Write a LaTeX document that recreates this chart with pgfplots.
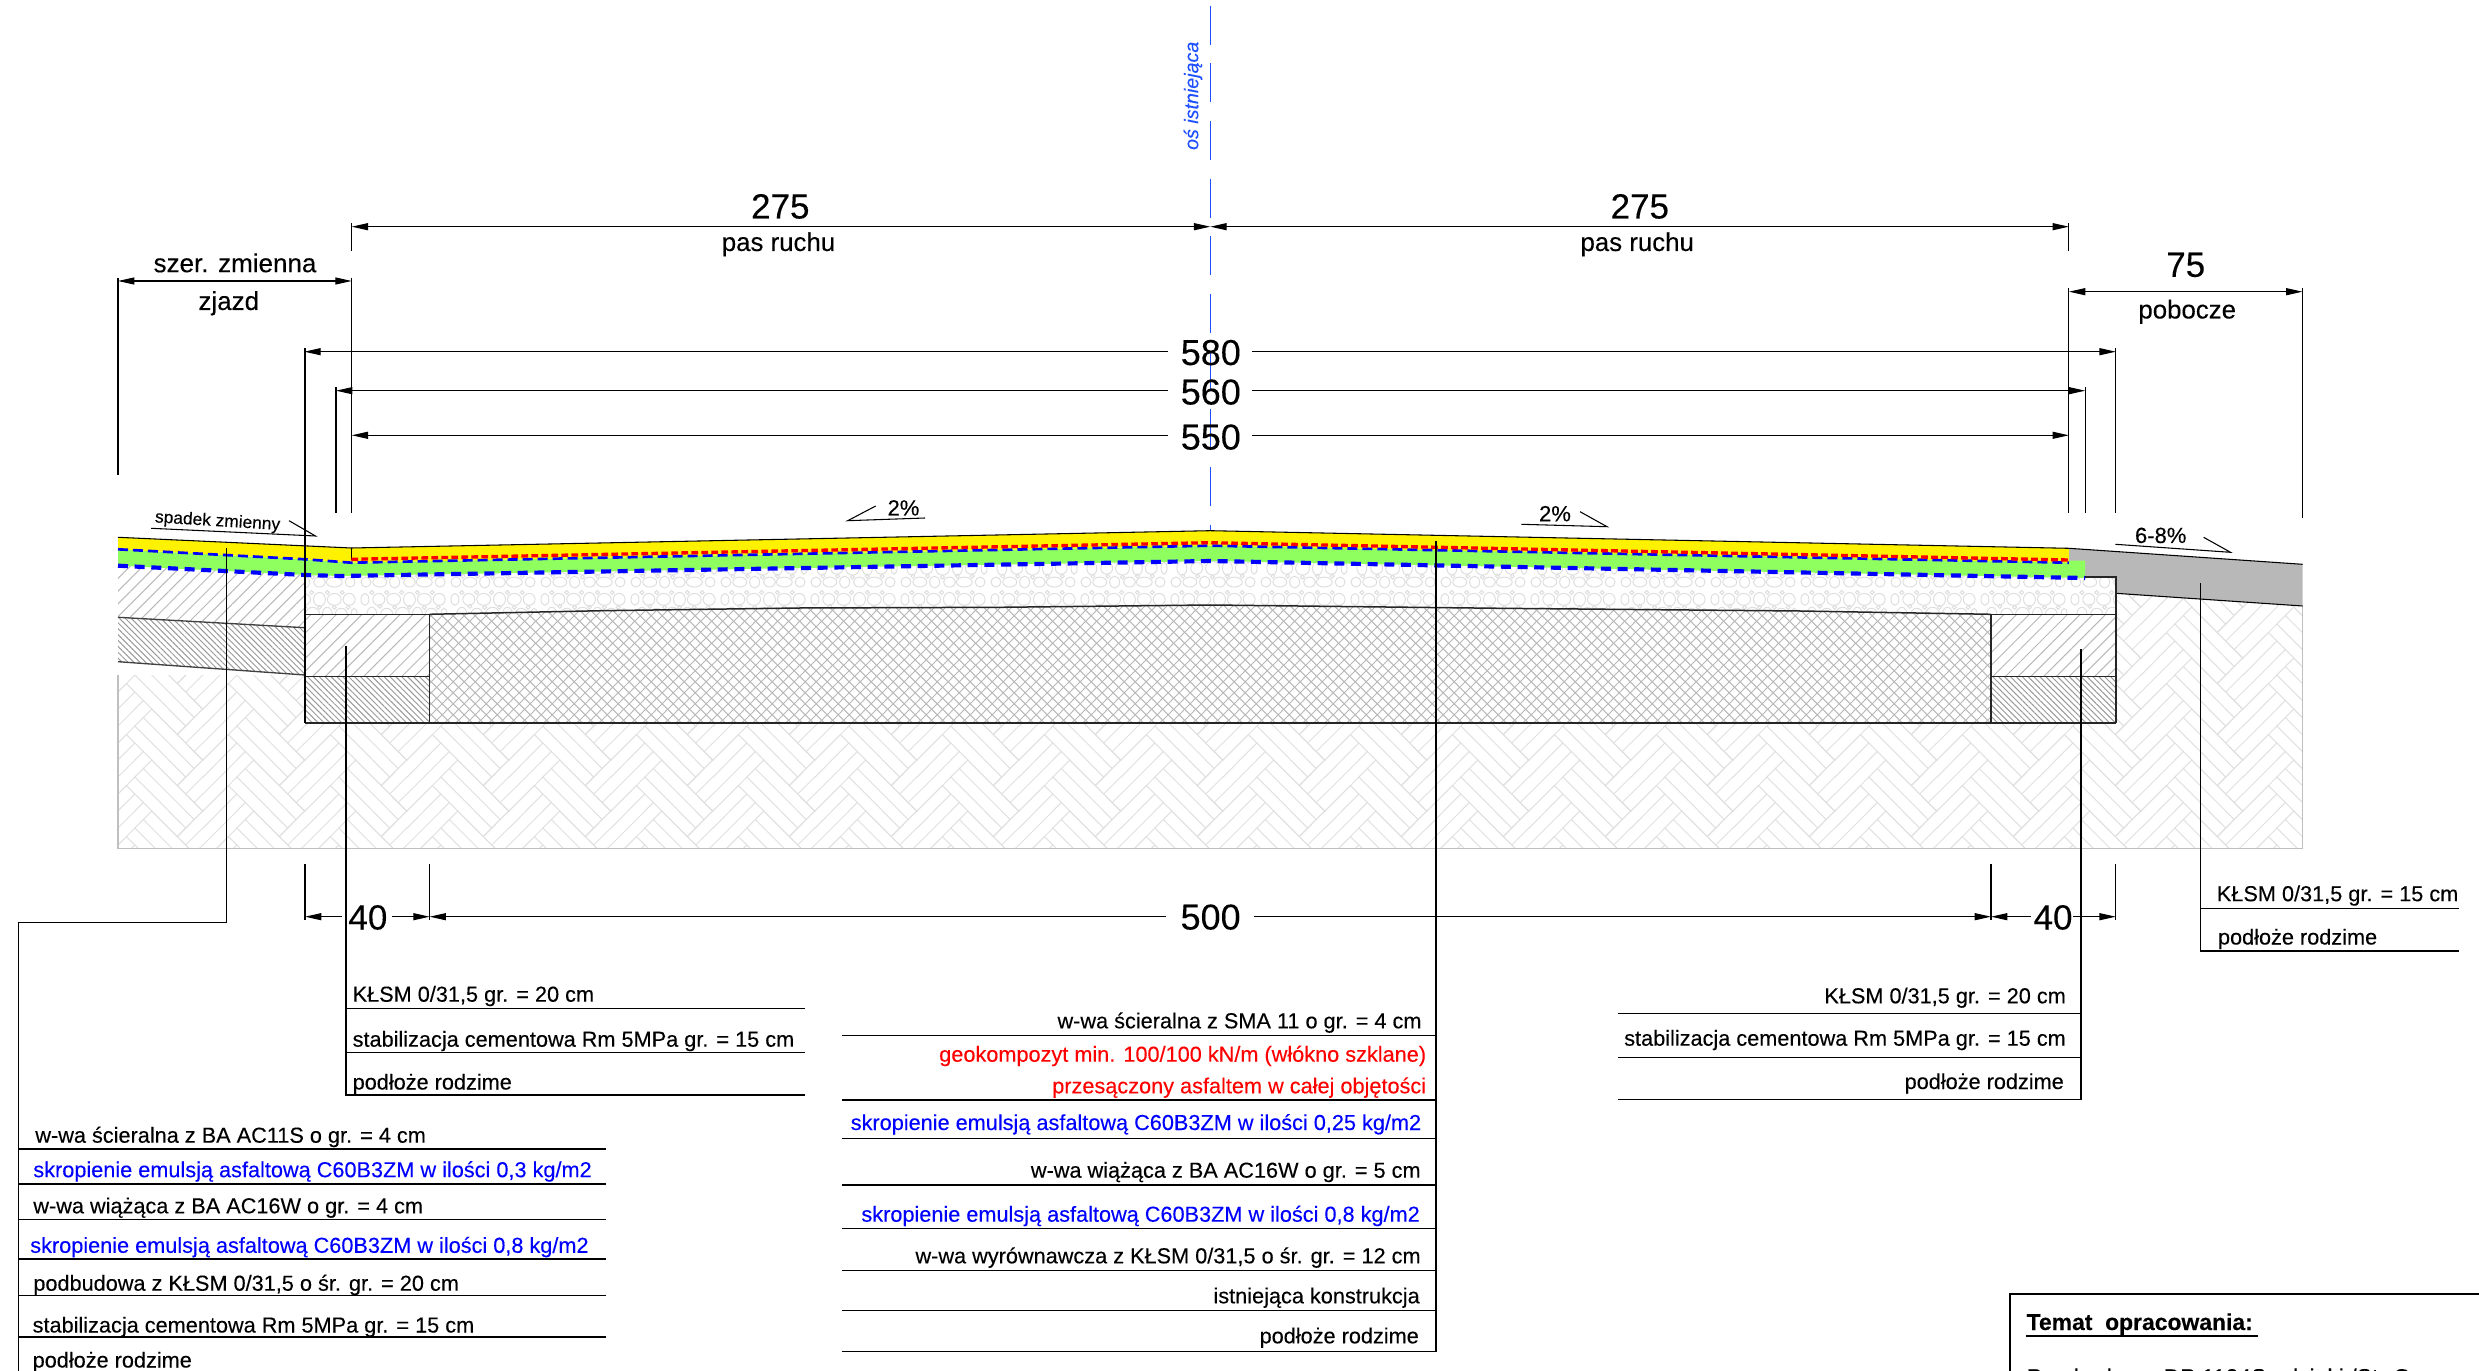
\documentclass[border=0pt]{standalone}
\usepackage{fontspec}
\setmainfont[FakeBold=0.2]{Liberation Sans}
\usepackage{pgfplots}
\pgfplotsset{compat=1.18}
\usetikzlibrary{arrows.meta,patterns,patterns.meta}

% everything is in reference pixels, 1 px = 0.3 pt
\newcommand{\hbline}[4]{%
  \pgfpathmoveto{\pgfpoint{(#1-(#2))*0.7071+\ox}{(#1+(#2))*0.7071+\oy}}%
  \pgfpathlineto{\pgfpoint{(#3-(#4))*0.7071+\ox}{(#3+(#4))*0.7071+\oy}}}
\pgfdeclarepatternformonly{herring}{\pgfqpoint{0pt}{0pt}}{\pgfqpoint{30.547pt}{15.274pt}}{\pgfqpoint{30.547pt}{15.274pt}}{%
  \pgfsetlinewidth{0.3pt}%
  \foreach \i in {-1,0,1,2}{\foreach \j in {-3,...,3}{%
    \pgfmathsetmacro{\ox}{\i*30.547}\pgfmathsetmacro{\oy}{\j*15.274}%
    % brick along u
    \hbline{0}{0}{21.6}{0}\hbline{0}{3.6}{21.6}{3.6}\hbline{0}{7.2}{21.6}{7.2}\hbline{0}{10.8}{21.6}{10.8}%
    \hbline{0}{0}{0}{10.8}\hbline{21.6}{0}{21.6}{10.8}%
    % brick along v
    \hbline{21.6}{-10.8}{21.6}{10.8}\hbline{25.2}{-10.8}{25.2}{10.8}\hbline{28.8}{-10.8}{28.8}{10.8}\hbline{32.4}{-10.8}{32.4}{10.8}%
    \hbline{21.6}{-10.8}{32.4}{-10.8}%
    \pgfusepath{stroke}%
  }}}
\pgfdeclarepatternformonly{gravel}{\pgfqpoint{0pt}{0pt}}{\pgfqpoint{27pt}{13.8pt}}{\pgfqpoint{27pt}{13.8pt}}{%
  \pgfsetlinewidth{0.3pt}%
  \foreach \x/\y/\a/\b in {6/7/5/5, 20/7/7/5, 35/7/5/6, 50/7/6/5, 65/7/8/5, 81/7/5/5,
    12/21/5/7, 27/21/6/6, 43/21/7/7, 58/21/5/7, 72/21/6/6, 85/21/3/6,
    5/36/4/6, 19/36/6/6, 34/36/7/6, 50/36/6/7, 65/36/7/6, 80/36/6/6,
    13/13/2/2, 28/13/2/2, 43/12/2/2, 58/13/2/2, 73/13/2/2,
    20/29/2/2, 35/28/2/2, 50/28/2/2, 65/28/2/2, 79/28/2/2,
    12/43/2/2, 27/43/2/2, 42/43/2/2, 58/43/2/2, 73/43/2/2}{%
    \pgfpathellipse{\pgfpoint{\x*0.3}{\y*0.3}}{\pgfpoint{\a*0.3}{0}}{\pgfpoint{0}{\b*0.3}}%
    \pgfusepath{stroke}%
  }}
\pgfdeclarepatternformonly{xhatch}{\pgfqpoint{0pt}{0pt}}{\pgfqpoint{3.2pt}{3.2pt}}{\pgfqpoint{3.2pt}{3.2pt}}{%
  \pgfsetlinewidth{0.3pt}%
  \pgfpathmoveto{\pgfqpoint{-0.4pt}{-0.4pt}}\pgfpathlineto{\pgfqpoint{3.6pt}{3.6pt}}%
  \pgfpathmoveto{\pgfqpoint{-0.4pt}{3.6pt}}\pgfpathlineto{\pgfqpoint{3.6pt}{-0.4pt}}%
  \pgfusepath{stroke}}

\definecolor{roadgreen}{RGB}{143,255,96}
\definecolor{shoulder}{RGB}{184,184,184}
\definecolor{axisblue}{RGB}{30,80,255}

\pgfplotsset{
  ln/.style={black,line width=0.32pt},
  dimr/.style={ln,-{Triangle[length=4.9pt,width=2.1pt]}},
  diml/.style={ln,{Triangle[length=4.9pt,width=2.1pt]}-},
  dimb/.style={ln,{Triangle[length=4.9pt,width=2.1pt]}-{Triangle[length=4.9pt,width=2.1pt]}},
}
\newcommand{\seg}[2][ln]{\addplot[#1] coordinates {#2};}
\newcommand{\T}[6][6.51]{\node[anchor=#2,text=#5,inner sep=0pt,font=\fontsize{#1}{#1}\selectfont] at (axis cs:#3,#4) {#6};}

\begin{document}
\begin{tikzpicture}
\begin{axis}[
  at={(0,0)}, anchor=south west,
  scale only axis, width=743.7pt, height=411.3pt,
  xmin=0, xmax=2479, ymin=0, ymax=1371, y dir=reverse,
  axis lines=none, clip=false,
]
% ground hatches
\addplot[draw=none, pattern=herring, pattern color=black!12] coordinates {(118,675) (305,675) (305,723.3) (2115.7,723.3) (2115.7,593.3) (2302.5,606) (2302.5,848.3) (118,848.3)} -- cycle;
\seg[black!25,line width=0.4pt]{(118,675) (118,848.3) (2302.5,848.3) (2302.5,606)}
% left driveway
\addplot[draw=none, pattern={Lines[angle=45,distance=2.7pt,line width=0.3pt]}, pattern color=black!28] coordinates {(118,565) (305,575) (305,627.7) (118,617.3)} -- cycle;
\addplot[draw=none, pattern={Lines[angle=-45,distance=1.25pt,line width=0.3pt]}, pattern color=black!40] coordinates {(118,617.3) (305,627.7) (305,675) (118,661.7)} -- cycle;
\seg[black!75,line width=0.4pt]{(118,617.3) (305,627.7)}
\seg[black!75,line width=0.4pt]{(118,661.7) (305,675)}
% side boxes
\addplot[draw=none, pattern={Lines[angle=45,distance=2.7pt,line width=0.3pt]}, pattern color=black!28] coordinates {(305,614.3) (429.5,614.3) (429.5,676.7) (305,676.7)} -- cycle;
\addplot[draw=none, pattern={Lines[angle=-45,distance=1.25pt,line width=0.3pt]}, pattern color=black!40] coordinates {(305,676.7) (429.5,676.7) (429.5,723.3) (305,723.3)} -- cycle;
\addplot[draw=none, pattern={Lines[angle=45,distance=2.7pt,line width=0.3pt]}, pattern color=black!28] coordinates {(1991,614.3) (2115.7,614.3) (2115.7,676.7) (1991,676.7)} -- cycle;
\addplot[draw=none, pattern={Lines[angle=-45,distance=1.25pt,line width=0.3pt]}, pattern color=black!40] coordinates {(1991,676.7) (2115.7,676.7) (2115.7,723.3) (1991,723.3)} -- cycle;
% existing construction
\addplot[draw=none, pattern=xhatch, pattern color=black!28] coordinates {(429.5,614.3) (602,610.7) (800,608) (1000,607.3) (1210.3,605) (1500,608.3) (1800,611) (1991,614.3) (1991,723.3) (429.5,723.3)} -- cycle;
% levelling course
\addplot[draw=none, pattern=gravel, pattern color=black!13] coordinates {(305,575) (340,576) (1210.3,561) (2085,578) (2115.7,576.7) (2115.7,614.3) (1991,614.3) (1800,611) (1500,608.3) (1210.3,605) (1000,607.3) (800,608) (602,610.7) (429.5,614.3) (305,614.3)} -- cycle;
% shoulder
\addplot[draw=none, fill=shoulder] coordinates {(2068.8,548.3) (2302.5,564.3) (2302.5,606) (2115.7,593.3) (2115.7,576.7) (2085,578) (2085,561) (2068.8,561)} -- cycle;
% binder and wearing course
\addplot[draw=none, fill=roadgreen] coordinates {(118,549.3) (305,559.3) (351.4,562.7) (1210.3,545.7) (2068.8,560.7) (2085,560.7) (2085,578) (1210.3,561) (340,576) (305,575) (118,565.7)} -- cycle;
\addplot[draw=none, fill=yellow] coordinates {(118,537.3) (351.4,548) (1210.3,530.7) (2068.8,548.3) (2068.8,562.7) (1210.3,545.7) (351.4,562.7) (305,559.3) (118,549.3)} -- cycle;
% outlines
\seg{(118,537.3) (351.4,548) (1210.3,530.7) (2068.8,548.3) (2302.5,564.3)}
\seg{(351.4,548) (351.4,560)}
\seg{(2115.7,593.3) (2302.5,606)}
\seg[black!85,line width=0.45pt]{(429.5,614.3) (602,610.7) (800,608) (1000,607.3) (1210.3,605) (1500,608.3) (1800,611) (1991,614.3)}
\seg[black!85,line width=0.45pt]{(305,614.3) (429.5,614.3)}
\seg[black!85,line width=0.45pt]{(1991,614.3) (2115.7,614.3)}
\seg[black!85,line width=0.45pt]{(305,676.7) (429.5,676.7)}
\seg[black!85,line width=0.45pt]{(1991,676.7) (2115.7,676.7)}
\seg[black!85,line width=0.5pt]{(305,723.3) (2115.7,723.3)}
\seg[black!85,line width=0.4pt]{(429.5,614.3) (429.5,723.3)}
\seg[black!85,line width=0.4pt]{(1991,614.3) (1991,723.3)}
\seg[black!85,line width=0.5pt]{(2085,576.7) (2115.7,576.7) (2115.7,723.3)}
% dashed membranes
\addplot[blue,line width=0.8pt,dash pattern=on 3pt off 1.5pt] coordinates {(118,549.3) (305,559.3) (351.4,562.7) (1210.3,545.7) (2068.8,562.7)};
\addplot[blue,line width=1.25pt,dash pattern=on 3pt off 2pt] coordinates {(118,565.7) (305,575) (340,576) (1210.3,561) (2085,578)};
\addplot[red,line width=1pt,dash pattern=on 2pt off 1pt] coordinates {(351.4,559.3) (1210.3,542.7) (2068.8,560)};
% road axis
\addplot[axisblue,line width=0.4pt,dash pattern=on 11.7pt off 5.6pt] coordinates {(1210.3,5.7) (1210.3,530)};
\node[rotate=90,text=axisblue,inner sep=0pt,font=\fontsize{5.9}{6}\selectfont\itshape] at (axis cs:1193,95.8) {oś istniejąca};

% upper dimensions
\seg[dimb]{(351.7,226.7) (1210.3,226.7)}
\seg[dimb]{(1210.3,226.7) (2068.9,226.7)}
\seg[dimb]{(118,281) (351.7,281)}
\seg[dimb]{(2068.9,291.7) (2302.5,291.7)}
\seg[diml]{(304.3,351.7) (1168,351.7)}
\seg[dimr]{(1252,351.7) (2115.8,351.7)}
\seg[diml]{(336,390.7) (1168,390.7)}
\seg[dimr]{(1252,390.7) (2085.2,390.7)}
\seg[diml]{(351.7,435.3) (1168,435.3)}
\seg[dimr]{(1252,435.3) (2068.9,435.3)}
% extension lines
\seg{(118,278) (118,475)}
\seg{(351.7,223) (351.7,250.7)}
\seg{(351.7,278) (351.7,513)}
\seg{(305,348) (305,723.3)}
\seg{(336,387) (336,513)}
\seg{(2068.9,223) (2068.9,250.7)}
\seg{(2068.9,288) (2068.9,513)}
\seg{(2085.2,387) (2085.2,513)}
\seg{(2115.8,348) (2115.8,513)}
\seg{(2302.5,288) (2302.5,517.7)}
\T[10.5]{base}{780.3}{218.5}{black}{275}
\T[7.75]{base}{778.5}{251}{black}{pas ruchu}
\T[10.5]{base}{1639.8}{218.5}{black}{275}
\T[7.75]{base}{1637.2}{251}{black}{pas ruchu}
\T[7.8]{base}{235}{272.2}{black}{szer. zmienna}
\T[7.8]{base}{228.8}{310}{black}{zjazd}
\T[10.5]{base}{2185.7}{276.8}{black}{75}
\T[7.75]{base}{2187.2}{318.5}{black}{pobocze}
\T[10.8]{base}{1210.8}{365}{black}{580}
\T[10.8]{base}{1210.8}{404.5}{black}{560}
\T[10.8]{base}{1210.8}{449.5}{black}{550}

% slope marks
\seg{(151.2,528.3) (315.5,536) (289,520.7)}
\node[rotate=-3.5,inner sep=0pt,font=\fontsize{5.2}{5.2}\selectfont] at (axis cs:217.6,521.7) {spadek zmienny};
\seg{(925,518) (847.7,520.7) (875.7,506)}
\T[6.6]{base}{903.5}{515.5}{black}{2\%}
\seg{(1521.4,524.3) (1607,526.7) (1580,511.7)}
\T[6.6]{base}{1555}{521.3}{black}{2\%}
\seg{(2115.3,544.3) (2230.5,552.3) (2203.6,537.3)}
\T[6.6]{base}{2160.7}{543}{black}{6-8\%}

% lower dimensions
\seg{(305,864) (305,920)}
\seg{(429.6,864) (429.6,920)}
\seg{(1991,864) (1991,920)}
\seg{(2115.8,864) (2115.8,920)}
\seg[diml]{(305,916.7) (342,916.7)}
\seg[dimr]{(392,916.7) (429.6,916.7)}
\seg[diml]{(429.6,916.7) (1166.4,916.7)}
\seg[dimr]{(1254,916.7) (1991,916.7)}
\seg[diml]{(1991,916.7) (2031,916.7)}
\seg[dimr]{(2073,916.7) (2115.8,916.7)}
\T[10.5]{base}{367.9}{929.5}{black}{40}
\T[10.8]{base}{1210.6}{929.5}{black}{500}
\T[10.5]{base}{2053}{929.5}{black}{40}

% far right callout
\seg{(2200.2,583) (2200.2,951) (2459.4,951)}
\seg{(2200.2,908.7) (2459.4,908.7)}
\T{base west}{2216.2}{901.2}{black}{KŁSM 0/31,5 gr. = 15 cm}
\T{base west}{2217.3}{944.5}{black}{podłoże rodzime}

% left edge callout
\seg{(346,645.7) (346,1095) (804.7,1095)}
\seg{(346,1008.3) (804.7,1008.3)}
\seg{(346,1052.7) (804.7,1052.7)}
\T{base west}{352}{1001.7}{black}{KŁSM 0/31,5 gr. = 20 cm}
\T{base west}{352}{1046.7}{black}{stabilizacja cementowa Rm 5MPa gr. = 15 cm}
\T{base west}{352}{1089.5}{black}{podłoże rodzime}

% right edge callout
\seg{(2081,649) (2081,1099.3) (1618,1099.3)}
\seg{(1618,1013.3) (2081,1013.3)}
\seg{(1618,1057.3) (2081,1057.3)}
\T{base east}{2066.5}{1003.3}{black}{KŁSM 0/31,5 gr. = 20 cm}
\T{base east}{2066.5}{1045.7}{black}{stabilizacja cementowa Rm 5MPa gr. = 15 cm}
\T{base east}{2064.5}{1089}{black}{podłoże rodzime}

% driveway callout
\seg{(226.4,547.7) (226.4,922.3) (18.4,922.3) (18.4,1371)}
\seg{(18.4,1149) (605.6,1149)}
\seg{(18.4,1184) (605.6,1184)}
\seg{(18.4,1219.7) (605.6,1219.7)}
\seg{(18.4,1259) (605.6,1259)}
\seg{(18.4,1295.7) (605.6,1295.7)}
\seg{(18.4,1337) (605.6,1337)}
\T{base west}{34.7}{1142.7}{black}{w-wa ścieralna z BA AC11S o gr. = 4 cm}
\T{base west}{32.7}{1177.2}{blue}{skropienie emulsją asfaltową C60B3ZM w ilości 0,3 kg/m2}
\T{base west}{32.7}{1213.3}{black}{w-wa wiążąca z BA AC16W o gr. = 4 cm}
\T{base west}{29.6}{1252.8}{blue}{skropienie emulsją asfaltową C60B3ZM w ilości 0,8 kg/m2}
\T{base west}{32.7}{1290.7}{black}{podbudowa z KŁSM 0/31,5 o śr. gr. = 20 cm}
\T{base west}{32}{1332.5}{black}{stabilizacja cementowa Rm 5MPa gr. = 15 cm}
\T{base west}{32}{1367.5}{black}{podłoże rodzime}

% centre callout
\seg{(1436,541) (1436,1351.5)}
\seg{(841.9,1035.3) (1436,1035.3)}
\seg{(841.9,1100) (1436,1100)}
\seg{(841.9,1138.3) (1436,1138.3)}
\seg{(841.9,1185) (1436,1185)}
\seg{(841.9,1228.3) (1436,1228.3)}
\seg{(841.9,1270.3) (1436,1270.3)}
\seg{(841.9,1310.7) (1436,1310.7)}
\seg{(841.9,1351.3) (1436,1351.3)}
\T{base east}{1422.2}{1028.3}{black}{w-wa ścieralna z SMA 11 o gr. = 4 cm}
\T{base east}{1426.8}{1061.7}{red}{geokompozyt min. 100/100 kN/m (włókno szklane)}
\T{base east}{1426.8}{1093.3}{red}{przesączony asfaltem w całej objętości}
\T{base east}{1421.9}{1130}{blue}{skropienie emulsją asfaltową C60B3ZM w ilości 0,25 kg/m2}
\T{base east}{1421.3}{1177.7}{black}{w-wa wiążąca z BA AC16W o gr. = 5 cm}
\T{base east}{1420.5}{1221.7}{blue}{skropienie emulsją asfaltową C60B3ZM w ilości 0,8 kg/m2}
\T{base east}{1421.3}{1263.3}{black}{w-wa wyrównawcza z KŁSM 0/31,5 o śr. gr. = 12 cm}
\T{base east}{1420.4}{1303.3}{black}{istniejąca konstrukcja}
\T{base east}{1419.5}{1343.3}{black}{podłoże rodzime}

% title block
\seg[black,line width=0.7pt]{(2010,1385) (2010,1294) (2500,1294)}
\node[anchor=base west,inner sep=0pt,font=\fontsize{6.87}{7}\selectfont\bfseries] at (axis cs:2026,1330) {Temat\ \ opracowania:};
\seg[black,line width=0.6pt]{(2026,1335.7) (2258,1335.7)}
\node[anchor=base west,inner sep=0pt,font=\fontsize{6.87}{7}\selectfont] at (axis cs:2026,1385) {Przebudowa};
\node[anchor=base west,inner sep=0pt,font=\fontsize{6.87}{7}\selectfont] at (axis cs:2163,1385) {DP 1104S odcinki /St. O};
\end{axis}
\pgfresetboundingbox
\path[use as bounding box] (0,0) rectangle (743.7pt,411.3pt);
\end{tikzpicture}
\end{document}
